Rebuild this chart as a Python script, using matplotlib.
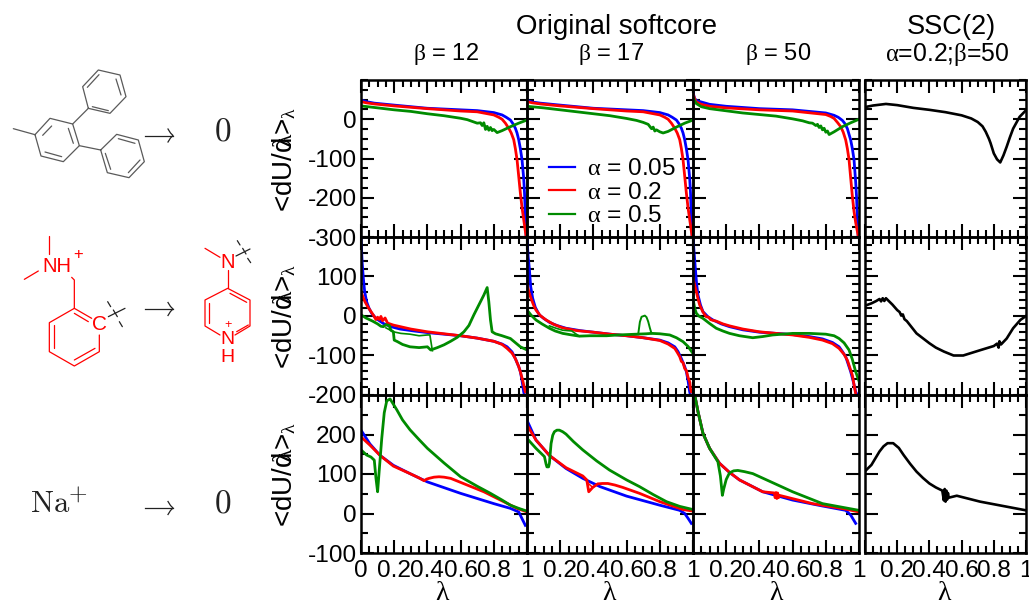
#!/usr/bin/env python3
"""
dU/dlambda curves for three perturbations, softcore settings side by side.
Saves out.png.
"""
import matplotlib
matplotlib.use("Agg")
import matplotlib.pyplot as plt
from matplotlib.ticker import MultipleLocator

plt.rcParams["font.family"] = ["Liberation Sans", "DejaVu Sans"]
plt.rcParams["mathtext.fontset"] = "custom"
plt.rcParams["mathtext.rm"] = "Liberation Serif"
plt.rcParams["mathtext.it"] = "Liberation Serif"
plt.rcParams["mathtext.default"] = "rm"

W, H = 1029, 606
BLUE, RED, GREEN = "#0000ff", "#ff0000", "#008b00"
GREY = "#5a5a5a"

# ── Curve data ─────────────────────────────────────────────────────────────
# row 1, beta = 12
A1_BLUE_X = [0, 0.03, 0.08, 0.2, 0.4, 0.6, 0.7, 0.8, 0.85, 0.875, 0.9, 0.915, 0.93, 0.94, 0.95, 0.96, 0.97, 0.98, 0.985, 0.99, 0.995]
A1_BLUE_Y = [49, 45, 41, 36, 28, 24, 22, 17, 11, 5, -2, -11, -23, -35, -52, -75, -103, -150, -188, -240, -300]
A1_RED_X = [0, 0.03, 0.08, 0.2, 0.4, 0.6, 0.7, 0.8, 0.83, 0.85, 0.87, 0.89, 0.905, 0.92, 0.93, 0.94, 0.95, 0.96, 0.97, 0.98, 0.99, 0.995]
A1_RED_Y = [45, 42, 39, 34, 27, 21, 19, 11, 5, 0, -10, -23, -35, -52, -75, -103, -145, -188, -225, -255, -285, -300]
A1_GREEN_X = [0, 0.1, 0.2, 0.3, 0.4, 0.5, 0.6, 0.64, 0.68, 0.7, 0.72, 0.73, 0.74, 0.75, 0.76, 0.77, 0.78, 0.79, 0.8, 0.82, 0.85, 0.9, 0.95, 1]
A1_GREEN_Y = [34, 29, 24, 20, 14, 9, 2.5, -1, -7, -10, -9, -16, -9, -26, -18, -28, -21, -29, -26, -34, -29, -19, -10, -2]

# row 1, beta = 17
B1_BLUE_X = [0, 0.03, 0.08, 0.2, 0.4, 0.6, 0.7, 0.8, 0.85, 0.875, 0.9, 0.915, 0.93, 0.94, 0.95, 0.96, 0.97, 0.98, 0.985, 0.99, 0.995]
B1_BLUE_Y = [48, 44, 41, 36, 28, 24, 22, 17, 11, 5, -2, -11, -23, -35, -52, -75, -103, -150, -188, -240, -300]
B1_RED_X = [0, 0.03, 0.08, 0.2, 0.4, 0.6, 0.7, 0.8, 0.83, 0.85, 0.87, 0.89, 0.905, 0.92, 0.93, 0.94, 0.95, 0.96, 0.97, 0.98, 0.99, 0.995]
B1_RED_Y = [45, 42, 39, 34, 27, 21, 19, 11, 5, 0, -10, -23, -35, -52, -75, -103, -145, -188, -225, -255, -285, -300]
B1_GREEN_X = [0, 0.1, 0.2, 0.3, 0.4, 0.5, 0.6, 0.66, 0.7, 0.73, 0.75, 0.76, 0.77, 0.78, 0.8, 0.82, 0.85, 0.9, 0.95, 1]
B1_GREEN_Y = [33, 29, 24, 19, 14, 9, 2, -3, -8, -13, -24, -20, -30, -27, -32, -35, -31, -20, -10, -2]

# row 1, beta = 50
C1_BLUE_X = [0, 0.01, 0.025, 0.05, 0.1, 0.2, 0.4, 0.6, 0.8, 0.85, 0.875, 0.9, 0.915, 0.93, 0.95, 0.96, 0.97, 0.98, 0.985, 0.99, 0.995]
C1_BLUE_Y = [69, 52, 47, 44, 38, 33, 27, 24, 16, 10, 5, -3, -11, -24, -53, -75, -103, -160, -196, -250, -297]
C1_RED_X = [0, 0.01, 0.02, 0.05, 0.1, 0.2, 0.4, 0.6, 0.8, 0.83, 0.85, 0.87, 0.89, 0.905, 0.92, 0.93, 0.94, 0.95, 0.96, 0.97, 0.98, 0.995]
C1_RED_Y = [65, 52, 44, 38, 33, 29, 24, 21, 12, 7, 2, -8, -19, -33, -53, -75, -103, -150, -196, -235, -263, -297]
C1_GREEN_X = [0, 0.01, 0.02, 0.05, 0.1, 0.3, 0.5, 0.6, 0.66, 0.7, 0.72, 0.74, 0.75, 0.76, 0.77, 0.78, 0.79, 0.8, 0.81, 0.82, 0.85, 0.9, 0.95, 1]
C1_GREEN_Y = [56, 47, 40, 32, 27, 16, 8, 1, -4, -9, -10, -16, -13, -21, -17, -27, -23, -33, -30, -39, -32, -19, -9, 0]

# row 1, SSC(2)
D1_X = [0, 0.05, 0.13, 0.2, 0.3, 0.4, 0.5, 0.6, 0.66, 0.7, 0.73, 0.75, 0.77, 0.78, 0.8, 0.82, 0.84, 0.86, 0.88, 0.9, 0.92, 0.96, 1]
D1_Y = [31, 35, 39, 36, 29, 24, 18, 10, 2, -7, -18, -32, -50, -61, -87, -102, -110, -92, -70, -46, -24, 6, 23]

# row 2, beta = 12
A2_BLUE_X = [0, 0.003, 0.007, 0.014, 0.022, 0.034, 0.048, 0.064, 0.09, 0.135, 0.18, 0.235, 0.32, 0.4, 0.5, 0.6, 0.7, 0.8, 0.85, 0.88, 0.91, 0.93, 0.95, 0.96, 0.97, 0.98, 0.99]
A2_BLUE_Y = [200, 170, 135, 96, 62, 36, 20, 7, -6, -19, -27, -33, -38, -42, -46, -50, -56, -64, -71, -78, -91, -108, -128, -141, -163, -192, -210]
A2_RED_X = [0, 0.012, 0.024, 0.04, 0.054, 0.075, 0.09, 0.1, 0.11, 0.12, 0.13, 0.145, 0.16, 0.195, 0.3, 0.4, 0.5, 0.6, 0.7, 0.8, 0.85, 0.88, 0.91, 0.93, 0.95, 0.96, 0.975, 0.99]
A2_RED_Y = [62, 48, 36, 24, 15, 2, -9, -3, -9, -1, -12, -5, -18, -23, -33, -40, -45, -50, -56, -64, -72, -82, -94, -108, -128, -141, -165, -192]
A2_GREEN_X = [0, 0.03, 0.07, 0.1, 0.12, 0.135, 0.15, 0.17, 0.18, 0.195, 0.2, 0.22, 0.25, 0.295, 0.35, 0.4, 0.42, 0.46, 0.5, 0.54, 0.58, 0.62, 0.65, 0.68, 0.71, 0.74, 0.76, 0.77, 0.78, 0.79, 0.81, 0.85, 0.9, 0.96, 1]
A2_GREEN_Y = [3, -5, -13, -20, -26, -27, -22, -24, -36, -40, -61, -65, -72, -78, -80, -78, -86, -80, -73, -64, -54, -40, -24, 3, 28, 53, 72, 36, -10, -40, -45, -50, -57, -78, -86]
# upper branch of the hysteresis loop
A2_BRANCH_X = [0.15, 0.195, 0.24, 0.295, 0.35, 0.4, 0.415, 0.43]
A2_BRANCH_Y = [-30, -40, -44, -46, -50, -48, -48, -88]

# row 2, beta = 17
B2_BLUE_X = [0, 0.003, 0.007, 0.014, 0.022, 0.034, 0.05, 0.074, 0.1, 0.135, 0.18, 0.235, 0.32, 0.4, 0.5, 0.6, 0.7, 0.8, 0.85, 0.89, 0.91, 0.93, 0.95, 0.96, 0.97, 0.98, 0.99]
B2_BLUE_Y = [200, 175, 150, 121, 75, 45, 22, 3, -6, -16, -24, -31, -37, -41, -46, -50, -55, -61, -68, -78, -90, -108, -128, -141, -163, -192, -210]
B2_RED_X = [0, 0.012, 0.024, 0.04, 0.054, 0.08, 0.115, 0.16, 0.215, 0.3, 0.4, 0.5, 0.6, 0.7, 0.8, 0.85, 0.89, 0.905, 0.92, 0.93, 0.94, 0.95, 0.96, 0.97, 0.98, 0.985, 0.99]
B2_RED_Y = [79, 60, 45, 27, 15, 1, -10, -21, -30, -37, -41, -46, -50, -55, -62, -71, -82, -92, -103, -115, -118, -133, -138, -155, -167, -185, -192]
B2_GREEN_X = [0, 0.025, 0.054, 0.09, 0.135, 0.17, 0.215, 0.27, 0.315, 0.38, 0.48, 0.55, 0.66, 0.72, 0.75, 0.8, 0.86, 0.9, 0.94, 0.97, 1]
B2_GREEN_Y = [15, 2, -10, -20, -31, -38, -44, -48, -51, -50, -50, -48, -46, -45, -44, -45, -48, -55, -65, -77, -95]
B2_BUMP_X = [0.67, 0.68, 0.69, 0.71, 0.72, 0.73, 0.74, 0.75]
B2_BUMP_Y = [-46, -15, -2, 1, -3, -14, -30, -44]
B2_BRANCH_X = [0.135, 0.175, 0.215, 0.27, 0.29, 0.315]
B2_BRANCH_Y = [-25, -31, -36, -38, -44, -51]

# row 2, beta = 50
C2_BLUE_X = [0, 0.005, 0.014, 0.022, 0.03, 0.045, 0.06, 0.09, 0.12, 0.17, 0.22, 0.3, 0.4, 0.5, 0.6, 0.7, 0.78, 0.84, 0.88, 0.9, 0.92, 0.95, 0.965, 0.98, 0.99]
C2_BLUE_Y = [200, 170, 121, 80, 53, 28, 11, -2, -10, -20, -27, -35, -41, -44, -47, -52, -58, -67, -78, -90, -103, -141, -165, -192, -200]
C2_RED_X = [0, 0.01, 0.02, 0.03, 0.04, 0.06, 0.08, 0.095, 0.105, 0.12, 0.14, 0.18, 0.22, 0.3, 0.4, 0.5, 0.6, 0.7, 0.78, 0.84, 0.88, 0.91, 0.93, 0.96, 0.98]
C2_RED_Y = [96, 78, 62, 44, 28, 10, -2, -3, -9, -11, -13, -20, -25, -33, -40, -44, -48, -54, -61, -70, -82, -97, -112, -150, -197]
C2_GREEN_X = [0, 0.01, 0.02, 0.035, 0.06, 0.1, 0.14, 0.18, 0.22, 0.28, 0.36, 0.42, 0.48, 0.6, 0.7, 0.8, 0.85, 0.88, 0.91, 0.94, 0.96, 0.98, 1]
C2_GREEN_Y = [45, 20, 7, 0, -6, -19, -31, -38, -44, -50, -55, -52, -48, -44, -44, -46, -50, -57, -68, -86, -110, -141, -165]

# row 2, SSC(2)
D2_X = [0, 0.04, 0.07, 0.09, 0.1, 0.11, 0.12, 0.13, 0.14, 0.17, 0.2, 0.215, 0.225, 0.235, 0.245, 0.26, 0.32, 0.4, 0.44, 0.49, 0.55, 0.61, 0.72, 0.8, 0.82, 0.83, 0.835, 0.845, 0.88, 0.92, 0.965, 1]
D2_Y = [26, 32, 38, 43, 37, 45, 38, 45, 41, 29, 15, 10, 1, 4, -8, -13, -44, -69, -80, -90, -100, -100, -86, -76, -70, -80, -64, -72, -57, -31, -10, 0]

# row 3, beta = 12
A3_BLUE_X = [0, 0.054, 0.115, 0.195, 0.295, 0.4, 0.6, 0.8, 0.9, 0.95, 0.97, 0.99]
A3_BLUE_Y = [211, 176, 147, 122, 101, 80, 51, 25, 13, 4, -13, -30]
A3_RED_X = [0, 0.054, 0.115, 0.195, 0.295, 0.35, 0.38, 0.395, 0.41, 0.44, 0.47, 0.5, 0.54, 0.64, 0.74, 0.84, 0.94, 1]
A3_RED_Y = [194, 173, 147, 120, 101, 90, 83, 87, 89, 92, 93, 92, 89, 72, 55, 34, 13, 4]
A3_GREEN_X = [0, 0.034, 0.06, 0.08, 0.09, 0.1, 0.11, 0.125, 0.14, 0.155, 0.175, 0.19, 0.215, 0.25, 0.295, 0.35, 0.4, 0.5, 0.6, 0.7, 0.78, 0.85, 0.9, 0.95, 1]
A3_GREEN_Y = [161, 148, 143, 135, 90, 55, 110, 190, 255, 285, 290, 280, 263, 237, 212, 187, 165, 128, 93, 69, 51, 34, 21, 13, 6]

# row 3, beta = 17
B3_BLUE_X = [0, 0.054, 0.135, 0.235, 0.336, 0.44, 0.6, 0.8, 0.92, 0.95, 0.97, 0.99]
B3_BLUE_Y = [236, 186, 147, 114, 89, 68, 44, 21, 8, 0, -12, -25]
B3_RED_X = [0, 0.054, 0.135, 0.235, 0.336, 0.36, 0.372, 0.396, 0.426, 0.455, 0.487, 0.53, 0.577, 0.678, 0.8, 0.94, 1]
B3_RED_Y = [224, 186, 147, 116, 95, 85, 55, 66, 75, 76, 76, 72, 66, 51, 30, 10, 6]
B3_BRANCH_X = [0.345, 0.372, 0.396, 0.426]
B3_BRANCH_Y = [92, 75, 66, 75]
B3_GREEN_X = [0, 0.054, 0.105, 0.115, 0.12, 0.13, 0.135, 0.145, 0.155, 0.165, 0.18, 0.195, 0.215, 0.235, 0.28, 0.336, 0.42, 0.497, 0.6, 0.678, 0.76, 0.84, 0.92, 1]
B3_GREEN_Y = [190, 165, 144, 125, 118, 118, 127, 177, 198, 207, 211, 211, 207, 201, 182, 161, 133, 110, 85, 68, 48, 30, 18, 10]

# row 3, beta = 50
C3_BLUE_X = [0.01, 0.03, 0.06, 0.1, 0.16, 0.22, 0.28, 0.42, 0.6, 0.78, 0.92, 0.95, 0.98]
C3_BLUE_Y = [301, 258, 203, 165, 127, 104, 85, 55, 34, 19, 8, -4, -25]
C3_RED_X = [0.01, 0.03, 0.06, 0.1, 0.16, 0.22, 0.28, 0.42, 0.49, 0.495, 0.5, 0.505, 0.51, 0.515, 0.52, 0.72, 0.92, 1]
C3_RED_Y = [301, 258, 203, 165, 127, 104, 85, 55, 52, 40, 53, 38, 52, 40, 46, 25, 11, 4]
C3_GREEN_X = [0.01, 0.03, 0.06, 0.1, 0.15, 0.165, 0.177, 0.185, 0.2, 0.22, 0.245, 0.27, 0.31, 0.36, 0.48, 0.6, 0.78, 1]
C3_GREEN_Y = [301, 258, 203, 165, 131, 95, 46, 62, 86, 103, 108, 109, 106, 101, 78, 55, 25, 8]

# row 3, SSC(2)
D3_X = [0, 0.04, 0.09, 0.115, 0.14, 0.175, 0.21, 0.24, 0.28, 0.32, 0.36, 0.4, 0.44, 0.48, 0.49, 0.495, 0.5, 0.505, 0.51, 0.515, 0.52, 0.57, 0.715, 1]
D3_Y = [107, 123, 157, 170, 178, 178, 166, 148, 126, 106, 90, 76, 66, 58, 33, 62, 30, 58, 35, 52, 40, 45, 30, 8]

# ── Axis setup ─────────────────────────────────────────────────────────────
X_TICKS = [0, 0.2, 0.4, 0.6, 0.8, 1]
Y_LIMITS = [(-300, 100), (-200, 200), (-100, 300)]
Y_MINOR = [25, 20, 50]
Y_TICKS = [[-300, -200, -100, 0], [-200, -100, 0, 100], [-100, 0, 100, 200]]

TITLE_MAIN = "Original softcore"
TITLE_SSC = "SSC(2)"
COL_TITLES = [r"$\beta$ = 12", r"$\beta$ = 17", r"$\beta$ = 50", r"$\alpha$=0.2;$\beta$=50"]
YLABEL = r"<dU/d$\!\!\!\lambda$>$_{\lambda}$"
LEGEND_LABELS = [r"$\alpha$ = 0.05", r"$\alpha$ = 0.2", r"$\alpha$ = 0.5"]

# panel edges in pixels
COL_EDGES = [(361, 527), (527, 693), (693, 859), (865, 1026)]
ROW_EDGES = [(80, 237), (237, 395), (395, 553)]
FS = 17.6


def add_panel(fig, col, row):
    x0, x1 = COL_EDGES[col]
    y0, y1 = ROW_EDGES[row]
    ax = fig.add_axes([x0 / W, 1 - y1 / H, (x1 - x0) / W, (y1 - y0) / H])
    ax.set_xlim(0, 1)
    ax.set_ylim(*Y_LIMITS[row])
    ax.patch.set_alpha(0)
    for s in ax.spines.values():
        s.set_linewidth(1.8)
    ax.set_xticks(X_TICKS)
    ax.xaxis.set_minor_locator(MultipleLocator(0.05))
    ax.yaxis.set_minor_locator(MultipleLocator(Y_MINOR[row]))
    ax.set_yticks(Y_TICKS[row])
    ax.tick_params(which="major", direction="in", top=True, right=True,
                   length=9.5, width=1.5, labelsize=FS, pad=3)
    ax.tick_params(which="minor", direction="in", top=True, right=True,
                   length=5, width=1.5)
    if row == 2:
        labs = ["0" if col == 0 else "", "0.2", "0.4", "0.6", "0.8", "1"]
        ax.set_xticklabels(labs)
        ax.tick_params(axis="x", pad=5)
    else:
        ax.set_xticklabels([])
    if col == 0:
        ax.set_yticklabels([str(v) for v in Y_TICKS[row]])
    else:
        ax.set_yticklabels([])
    return ax


def draw_segs(ov, segs, color, lw=0.9):
    # coordinates come from a 3x crop that starts at y=50
    for seg in segs:
        ov.plot([p[0] / 3 for p in seg], [50 + p[1] / 3 for p in seg],
                color=color, lw=lw, solid_capstyle="round")


def draw_arrow(ov, x0, x1, y):
    ov.plot([x0, x1], [y, y], color="#222222", lw=0.9)
    ov.plot([x1 - 5, x1 - 2.5, x1, x1 - 2.5, x1 - 5],
            [y - 6.5, y - 2.5, y, y + 2.5, y + 6.5], color="#222222", lw=0.9)


def draw_molecules(ov):
    grey_segs = [
        [(40, 236), (105, 254)],
        [(105, 254), (150, 205), (218, 222), (238, 287), (190, 335), (123, 318), (105, 254)],
        [(128, 256), (155, 228)], [(205, 235), (220, 280)], [(135, 306), (185, 320)],
        [(218, 222), (265, 175)],
        [(265, 175), (248, 110), (295, 60), (360, 75), (378, 140), (330, 190), (265, 175)],
        [(262, 112), (297, 74)], [(348, 87), (363, 135)], [(277, 170), (325, 182)],
        [(238, 287), (302, 300)],
        [(302, 300), (350, 253), (415, 270), (433, 335), (387, 383), (322, 368), (302, 300)],
        [(355, 266), (405, 280)], [(420, 330), (385, 368)], [(316, 310), (332, 358)],
    ]
    draw_segs(ov, grey_segs, GREY)

    red_segs = [
        [(148, 558), (148, 612)], [(73, 688), (115, 663)],
        [(215, 682), (223, 690), (223, 775)],
        [(275, 805), (223, 775), (148, 818), (148, 905), (223, 948), (298, 905), (298, 855)],
        [(223, 790), (265, 815)], [(162, 825), (162, 895)], [(223, 930), (285, 895)],
        [(615, 595), (660, 622)], [(683, 660), (683, 715)],
        [(660, 855), (615, 828), (615, 750), (683, 715), (750, 750), (750, 828), (705, 855)],
        [(690, 730), (740, 757)], [(628, 760), (628, 820)], [(710, 845), (745, 825)],
    ]
    draw_segs(ov, red_segs, RED)

    cross_segs = [
        [(325, 800), (375, 775)], [(323, 755), (332, 770)], [(340, 780), (352, 800)],
        [(358, 815), (367, 830)],
        [(708, 618), (750, 597)], [(712, 572), (720, 585)], [(728, 595), (738, 612)],
        [(743, 625), (752, 638)],
    ]
    draw_segs(ov, cross_segs, "#222222")

    for s, zx, zy, fs in [("NH", 170, 648, 14.5), ("+", 235, 613, 12), ("C", 298, 825, 15),
                          ("N", 683, 636, 14.5), ("+", 683, 826, 9), ("N", 683, 870, 14),
                          ("H", 683, 922, 14)]:
        ov.text(zx / 3, 50 + zy / 3, s, color=RED, fontsize=fs, ha="center", va="center")

    for s, x, y, fs in [("0", 223, 133, 24), ("0", 223, 505, 24), ("Na", 50, 504, 22), ("+", 78, 496, 17)]:
        ov.text(x, y, s, family="cmr10", color="#222222", fontsize=fs, ha="center", va="center")
    for y in [135.5, 309, 508]:
        draw_arrow(ov, 145, 173, y)


def main():
    fig = plt.figure(figsize=(W / 100, H / 100), dpi=100)

    ov = fig.add_axes([0, 0, 1, 1], zorder=5)
    ov.set_xlim(0, W)
    ov.set_ylim(H, 0)
    ov.axis("off")

    colored = [
        [(A1_BLUE_X, A1_BLUE_Y), (A1_RED_X, A1_RED_Y), (A1_GREEN_X, A1_GREEN_Y)],
        [(A2_BLUE_X, A2_BLUE_Y), (A2_RED_X, A2_RED_Y), (A2_GREEN_X, A2_GREEN_Y)],
        [(A3_BLUE_X, A3_BLUE_Y), (A3_RED_X, A3_RED_Y), (A3_GREEN_X, A3_GREEN_Y)],
        [(B1_BLUE_X, B1_BLUE_Y), (B1_RED_X, B1_RED_Y), (B1_GREEN_X, B1_GREEN_Y)],
        [(B2_BLUE_X, B2_BLUE_Y), (B2_RED_X, B2_RED_Y), (B2_GREEN_X, B2_GREEN_Y)],
        [(B3_BLUE_X, B3_BLUE_Y), (B3_RED_X, B3_RED_Y), (B3_GREEN_X, B3_GREEN_Y)],
        [(C1_BLUE_X, C1_BLUE_Y), (C1_RED_X, C1_RED_Y), (C1_GREEN_X, C1_GREEN_Y)],
        [(C2_BLUE_X, C2_BLUE_Y), (C2_RED_X, C2_RED_Y), (C2_GREEN_X, C2_GREEN_Y)],
        [(C3_BLUE_X, C3_BLUE_Y), (C3_RED_X, C3_RED_Y), (C3_GREEN_X, C3_GREEN_Y)],
    ]

    axes = {}
    for i, series in enumerate(colored):
        col, row = i // 3, i % 3
        ax = add_panel(fig, col, row)
        axes[(col, row)] = ax
        for (xs, ys), c, lab in zip(series, [BLUE, RED, GREEN], LEGEND_LABELS):
            ax.plot(xs, ys, color=c, lw=2.0, label=lab)

    # thinner hysteresis branches
    axes[(0, 1)].plot(A2_BRANCH_X, A2_BRANCH_Y, color=GREEN, lw=1.2)
    axes[(1, 1)].plot(B2_BUMP_X, B2_BUMP_Y, color=GREEN, lw=1.4)
    axes[(1, 1)].plot(B2_BRANCH_X, B2_BRANCH_Y, color=GREEN, lw=1.2)
    axes[(1, 2)].plot(B3_BRANCH_X, B3_BRANCH_Y, color=RED, lw=1.1)

    for row, (xs, ys) in enumerate([(D1_X, D1_Y), (D2_X, D2_Y), (D3_X, D3_Y)]):
        ax = add_panel(fig, 3, row)
        ax.plot(xs, ys, color="black", lw=1.9)

    h, l = axes[(1, 0)].get_legend_handles_labels()
    leg = fig.legend(h, l, loc="upper left", bbox_to_anchor=(549 / W, 1 - 158 / H), frameon=False,
                     fontsize=FS, handlelength=1.07, handletextpad=0.5, labelspacing=0.06,
                     borderpad=0, borderaxespad=0)
    for line in leg.get_lines():
        line.set_linewidth(1.6)

    # ── Titles and labels in pixel positions ──────────────────────────────
    ov.text(617, 27, TITLE_MAIN, fontsize=19.9, ha="center", va="center")
    ov.text(951, 27, TITLE_SSC, fontsize=19.6, ha="center", va="center")
    for x, s, fs in zip([446, 611, 778, 947], COL_TITLES, [17, 17, 17, 17.8]):
        ov.text(x, 54, s, fontsize=fs, ha="center", va="center")
    for x in [443, 610, 777, 945]:
        ov.text(x, 593, r"$\lambda$", fontsize=20, ha="center", va="center")
    for y in [159, 316, 474]:
        ov.text(284, y, YLABEL, fontsize=20, rotation=90, ha="center", va="center")

    draw_molecules(ov)

    fig.savefig("out.png", dpi=100)
    plt.close(fig)
    print("Saved: out.png")


if __name__ == "__main__":
    main()
